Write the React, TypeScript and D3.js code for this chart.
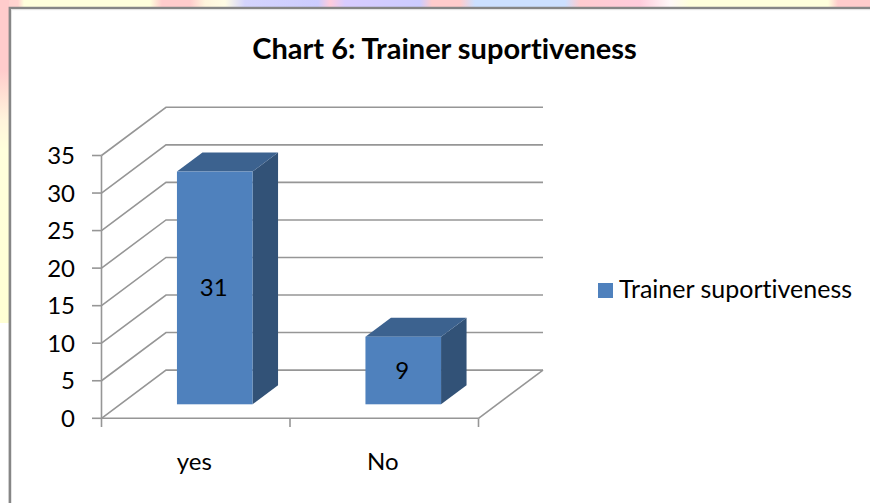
import React from "react";
import * as d3 from "d3";

const categories = ["yes", "No"];
const seriesName = "Trainer suportiveness";
const values = [31, 9];
const yTicks = [0, 5, 10, 15, 20, 25, 30, 35];
const title = "Chart 6: Trainer suportiveness";

const W = 870, H = 503;
const FONT = "Lato, 'Open Sans', sans-serif";
const GRID = "#969696";

const topStops: [number, string][] = [
  [0, "#ffd0d0"], [18, "#ffd4d0"], [24, "#ffffdc"], [150, "#ffffdc"], [162, "#ffcccc"], [190, "#ffcccc"],
  [205, "#fff4dc"], [225, "#fffce4"], [245, "#d4d4fc"], [318, "#ccccff"], [330, "#ffccdc"], [345, "#d8ccff"],
  [420, "#ccccff"], [432, "#ffcccc"], [460, "#ffcccc"], [475, "#cce0ff"], [565, "#cce0ff"], [580, "#ffccd0"],
  [640, "#ffccdc"], [670, "#fff8f8"], [690, "#ffffdc"], [828, "#ffffdc"], [838, "#ffcccc"], [870, "#ffcccc"],
];
const leftStops: [number, string][] = [
  [0, "#ffcccc"], [70, "#ffcccc"], [120, "#fff4dc"], [150, "#ffffdc"], [323, "#ffffd4"],
];

const y = d3.scaleLinear().domain([0, 35]).range([418.3, 155.5]);
const x = d3.scaleBand<string>().domain(categories).range([101.5, 478.5]);
const depthX = 64.5, depthY = -48.2;
const barDx = 19, barDy = -14; // front of the bars sits inside the floor
const barDepthX = 25.5, barDepthY = -19;
const barWidth = 75.6;

const poly = (pts: [number, number][]) => d3.line()(pts)! + "Z";

export default function App() {
  return (
    <div style={{ position: "absolute", left: 0, top: 0, width: W, height: H }}>
      <svg width={W} height={H} style={{ display: "block", fontVariantLigatures: "none" }} fontFamily={FONT}>
        <defs>
          <linearGradient id="topBg" gradientUnits="userSpaceOnUse" x1={0} x2={W} y1={0} y2={0}>
            {topStops.map(([p, c], i) => <stop key={i} offset={p / W} stopColor={c} />)}
          </linearGradient>
          <linearGradient id="leftBg" gradientUnits="userSpaceOnUse" x1={0} x2={0} y1={0} y2={323}>
            {leftStops.map(([p, c], i) => <stop key={i} offset={p / 323} stopColor={c} />)}
          </linearGradient>
        </defs>
        <rect width={W} height={H} fill="#fff" />
        <rect x={0} y={0} width={W} height={8} fill="url(#topBg)" />
        <rect x={0} y={0} width={9} height={323} fill="url(#leftBg)" />
        <path d="M9.8,503V8H870" fill="none" stroke="#868686" strokeWidth={2.4} />
        <path d="M11.5,503V9.7H870" fill="none" stroke="#e4e4e4" strokeWidth={1} />

        <text x={444.5} y={59} textAnchor="middle" fontSize={29} fontWeight={700} fill="#000">{title}</text>

        {/* back wall and side wall grid */}
        <g fill="none" stroke={GRID} strokeWidth={1.6}>
          {yTicks.map((t) => (
            <path key={t} d={d3.line()([
              [x.range()[0], y(t)],
              [x.range()[0] + depthX, y(t) + depthY],
              [x.range()[1] + depthX, y(t) + depthY],
            ])!} />
          ))}
          <path d={d3.line()([
            [x.range()[1], y(0)],
            [x.range()[1] + depthX, y(0) + depthY],
          ])!} />
          <path d={`M${x.range()[0]},${y(35)}V${y(0)}H${x.range()[1]}`} />
          {yTicks.map((t) => <path key={t} d={`M92,${y(t)}H${x.range()[0]}`} />)}
          {[...categories.map((c) => x(c)!), x.range()[1]].map((p, i) => (
            <path key={i} d={`M${p},${y(0)}V427`} />
          ))}
        </g>

        {yTicks.map((t) => (
          <text key={t} x={75} y={y(t) + 8.5} textAnchor="end" fontSize={24} fill="#000">{t}</text>
        ))}
        {categories.map((c) => (
          <text key={c} x={x(c)! + x.bandwidth() / 2 - 1.5} y={470} textAnchor="middle" fontSize={24} fill="#000">{c}</text>
        ))}

        {/* bars */}
        {categories.map((c, i) => {
          const x0 = x(c)! + (x.bandwidth() - barWidth) / 2 + barDx;
          const x1 = x0 + barWidth;
          const yb = y(0) + barDy;
          const yt = y(values[i]) + barDy;
          return (
            <g key={c}>
              <path d={poly([[x1, yt], [x1 + barDepthX, yt + barDepthY], [x1 + barDepthX, yb + barDepthY], [x1, yb]])} fill="#325277" />
              <path d={poly([[x0, yt], [x0 + barDepthX, yt + barDepthY], [x1 + barDepthX, yt + barDepthY], [x1, yt]])} fill="#3c628f" />
              <rect x={x0} y={yt} width={barWidth} height={yb - yt} fill="#4f81bd" />
              <text x={(x0 + x1) / 2 - 1} y={(yt + yb) / 2 + 8.5} textAnchor="middle" fontSize={24} fill="#000">{values[i]}</text>
            </g>
          );
        })}

        {/* legend */}
        <rect x={598} y={283} width={15} height={15} fill="#4f81bd" />
        <text x={619} y={298} fontSize={25} fill="#000">{seriesName}</text>
      </svg>
    </div>
  );
}
